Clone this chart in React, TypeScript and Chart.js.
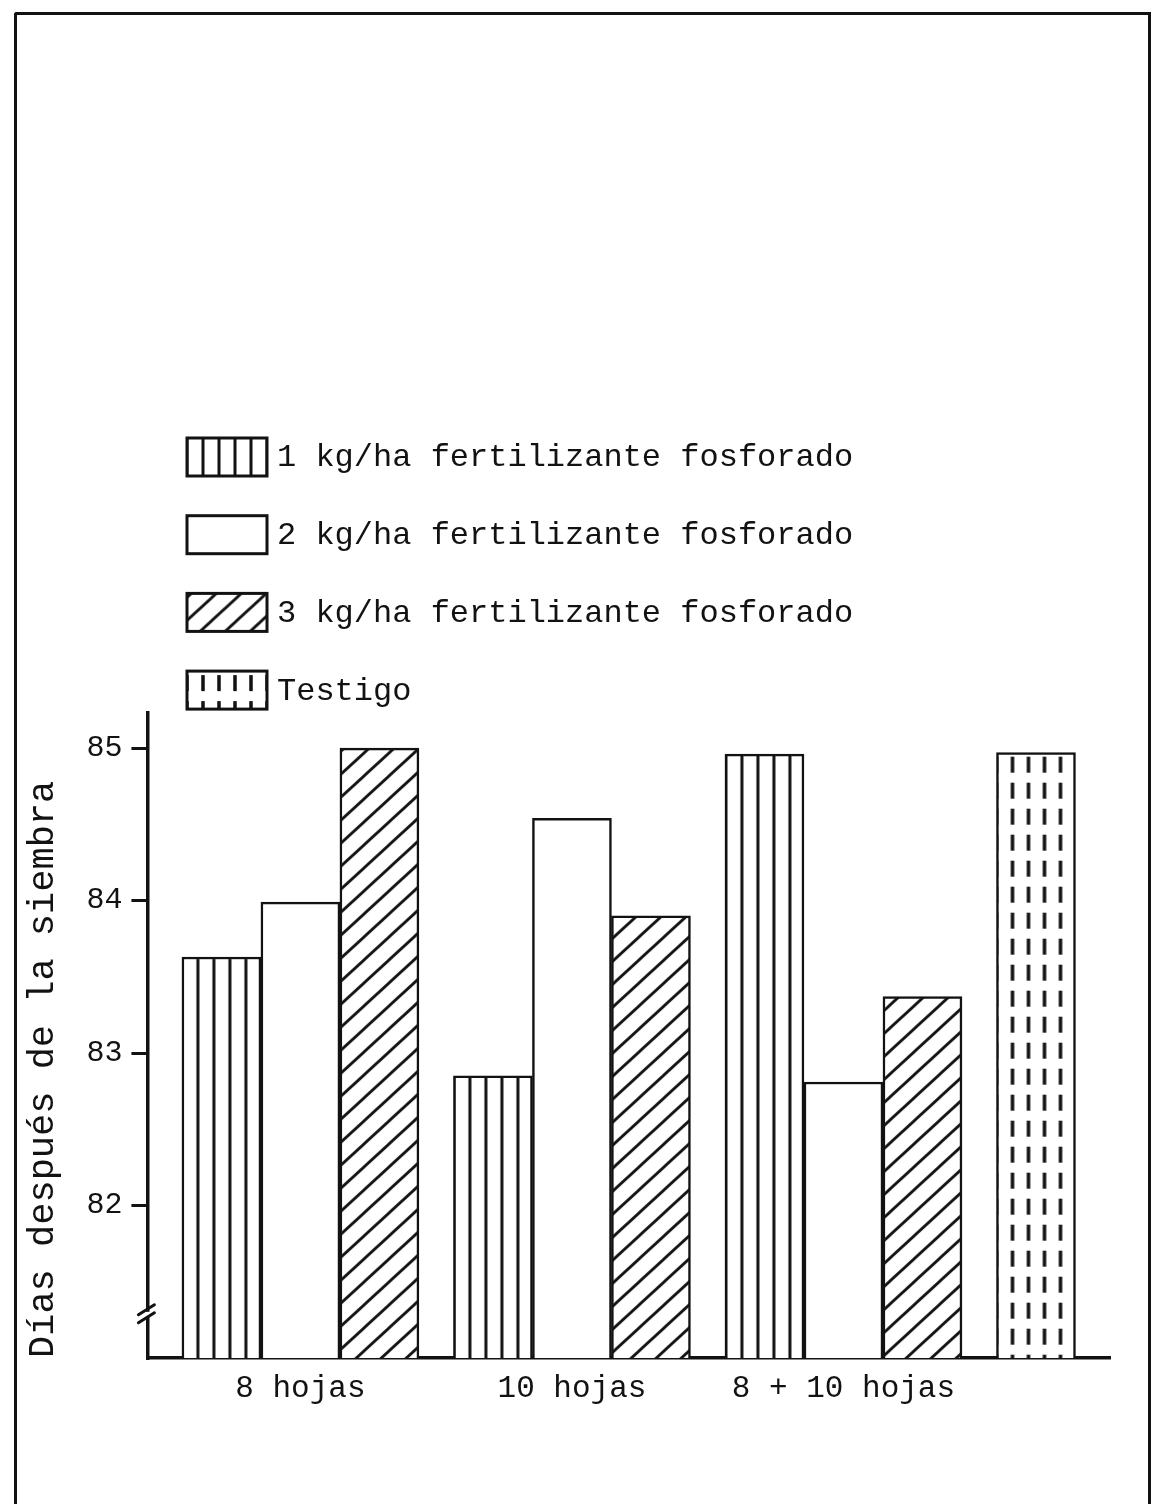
import React, { useEffect, useRef } from 'react';
import { Chart, registerables, CategoryScale } from 'chart.js';

// ---------------- data ----------------
const categories = ['8 hojas', '10 hojas', '8 + 10 hojas', ''];
const seriesLabels = [
  '1 kg/ha fertilizante fosforado',
  '2 kg/ha fertilizante fosforado',
  '3 kg/ha fertilizante fosforado',
  'Testigo',
];
const dose1 = [83.63, 82.85, 84.96, null];
const dose2 = [83.99, 84.54, 82.81, null];
const dose3 = [85.0, 83.9, 83.37, null];
const testigo = [null, null, null, 84.97];
const yTicks = [82, 83, 84, 85];
const yMin = 81;
const yMax = 85.23;
const breakAt = 81.27;
const yTitle = 'Días después de la siembra';

// ---------------- style ----------------
const INK = '#121212';
const FONT = '"Liberation Mono", "DejaVu Sans Mono", monospace';
const BAR_W = 79;
const LEGEND = { x: 187, top: 438, step: 77.7, w: 80, h: 38, textGap: 10, size: 32 };

// Category scale whose categories get a width proportional to the number of bars they hold
class GroupedCategoryScale extends (CategoryScale as any) {
  static id = 'groupedCategory';
  groupCenters(): number[] {
    const labels: any[] = this.getLabels();
    const datasets: any[] = this.chart.data.datasets;
    const counts = labels.map((_: any, i: number) =>
      Math.max(1, datasets.filter((d) => d.data[i] !== null && d.data[i] !== undefined).length)
    );
    const total = counts.reduce((a: number, b: number) => a + b, 0);
    const gap = (this.width - total * BAR_W) / (counts.length + 1);
    const centers: number[] = [];
    let x = this.left + gap;
    counts.forEach((c: number) => {
      centers.push(x + (c * BAR_W) / 2);
      x += c * BAR_W + gap;
    });
    return centers;
  }
  getPixelForValue(value: any) {
    if (typeof value !== 'number') value = this.parse(value);
    if (value === null || value === undefined || isNaN(value)) return NaN;
    const centers = this.groupCenters();
    const i = Math.max(0, Math.min(centers.length - 1, Math.round(value)));
    return centers[i];
  }
}

Chart.register(...registerables, GroupedCategoryScale as any);

function makePattern(w: number, h: number, draw: (g: CanvasRenderingContext2D, w: number, h: number) => void) {
  const c = document.createElement('canvas');
  c.width = w;
  c.height = h;
  const g = c.getContext('2d')!;
  g.fillStyle = '#ffffff';
  g.fillRect(0, 0, w, h);
  g.fillStyle = INK;
  g.strokeStyle = INK;
  draw(g, w, h);
  return g.createPattern(c, 'repeat')!;
}

const alignPatterns = {
  id: 'alignPatterns',
  beforeDatasetsDraw(chart: any) {
    chart.data.datasets.forEach((ds: any, i: number) => {
      const bg = ds.backgroundColor;
      if (!(bg instanceof CanvasPattern)) return;
      const idx = ds.data.findIndex((v: any) => v !== null && v !== undefined);
      const el = chart.getDatasetMeta(i).data[idx];
      if (!el) return;
      const { x, y, width } = el.getProps(['x', 'y', 'width'], true);
      bg.setTransform(new DOMMatrix().translate(x - width / 2, y + 4));
    });
  },
};

const boxLegend = {
  id: 'boxLegend',
  afterDraw(chart: any) {
    const ctx = chart.ctx as CanvasRenderingContext2D;
    ctx.save();
    chart.data.datasets.forEach((ds: any, i: number) => {
      const x = LEGEND.x;
      const y = LEGEND.top + i * LEGEND.step;
      const bg = ds.backgroundColor;
      if (bg instanceof CanvasPattern) bg.setTransform(new DOMMatrix().translate(x, y + 4));
      ctx.fillStyle = bg;
      ctx.fillRect(x, y, LEGEND.w, LEGEND.h);
      ctx.lineWidth = 3;
      ctx.strokeStyle = INK;
      ctx.strokeRect(x, y, LEGEND.w, LEGEND.h);
      ctx.fillStyle = INK;
      ctx.font = `${LEGEND.size}px ${FONT}`;
      ctx.textBaseline = 'middle';
      ctx.textAlign = 'left';
      ctx.fillText(ds.label, x + LEGEND.w + LEGEND.textGap, y + LEGEND.h / 2 + 1);
    });
    ctx.restore();
  },
};

const axisBreak = {
  id: 'axisBreak',
  afterDraw(chart: any) {
    const ctx = chart.ctx as CanvasRenderingContext2D;
    const x = chart.chartArea.left;
    const y = chart.scales.y.getPixelForValue(breakAt);
    ctx.save();
    ctx.fillStyle = '#ffffff';
    ctx.fillRect(x - 3, y - 5, 6, 5);
    ctx.strokeStyle = INK;
    ctx.lineWidth = 3;
    ctx.lineCap = 'round';
    ctx.beginPath();
    ctx.moveTo(x - 9, y - 2);
    ctx.lineTo(x + 7, y - 12);
    ctx.moveTo(x - 9, y + 6);
    ctx.lineTo(x + 7, y - 4);
    ctx.stroke();
    ctx.restore();
  },
};

export default function App() {
  const ref = useRef<HTMLCanvasElement | null>(null);

  useEffect(() => {
    if (!ref.current) return;
    const vertical = makePattern(16, 16, (g, w, h) => {
      g.fillRect(0, 0, 1.5, h);
      g.fillRect(w - 1.5, 0, 1.5, h);
    });
    const hatch = makePattern(25, 23, (g, w, h) => {
      g.lineWidth = 2.8;
      g.beginPath();
      for (let k = -1; k <= 1; k++) {
        g.moveTo(-w, (k + 2) * h);
        g.lineTo(2 * w, (k - 1) * h);
      }
      g.stroke();
    });
    const dashed = makePattern(16, 26, (g, w) => {
      g.fillRect(0, 0, 1.75, 16);
      g.fillRect(w - 1.75, 0, 1.75, 16);
    });

    const fills = [vertical, '#ffffff', hatch, dashed];
    const values = [dose1, dose2, dose3, testigo];

    const chart = new Chart(ref.current, {
      type: 'bar',
      data: {
        labels: categories,
        datasets: values.map((v, i) => ({
          label: seriesLabels[i],
          data: v,
          backgroundColor: fills[i] as any,
          borderColor: INK,
          borderWidth: 2.5,
          borderSkipped: false,
          barThickness: BAR_W,
          skipNull: true,
        })),
      },
      options: {
        responsive: false,
        animation: false,
        events: [],
        devicePixelRatio: 1,
        layout: { padding: { left: 7, right: 44, top: 713, bottom: 84.8 } },
        plugins: {
          legend: { display: false },
          tooltip: { enabled: false },
        },
        scales: {
          x: {
            type: 'groupedCategory' as any,
            grid: { display: false, drawTicks: false },
            border: { display: true, color: INK, width: 3.5 },
            ticks: {
              color: INK,
              font: { family: FONT, size: 31 },
              padding: 12,
              autoSkip: false,
              maxRotation: 0,
              minRotation: 0,
            },
          },
          y: {
            min: yMin,
            max: yMax,
            grid: {
              display: true,
              drawOnChartArea: false,
              drawTicks: true,
              tickLength: 16,
              lineWidth: 3,
              color: (c: any) => (c.tick && yTicks.includes(c.tick.value) ? INK : 'rgba(0,0,0,0)'),
            },
            border: { display: true, color: INK, width: 3.5 },
            ticks: {
              stepSize: 1,
              includeBounds: false,
              color: INK,
              font: { family: FONT, size: 30 },
              padding: 9,
              callback: (v: any) => (yTicks.includes(Number(v)) ? String(v) : ''),
            },
            title: {
              display: true,
              text: yTitle,
              color: INK,
              align: 'start',
              font: { family: FONT, size: 37 },
              padding: { top: 14, bottom: 12 },
            },
          },
        },
      },
      plugins: [alignPatterns, boxLegend, axisBreak],
    });
    return () => chart.destroy();
  }, []);

  return (
    <div
      style={{
        position: 'absolute',
        left: 0,
        top: 0,
        width: 1154,
        height: 1504,
        overflow: 'hidden',
        background: '#ffffff',
      }}
    >
      <div
        style={{
          position: 'absolute',
          left: 14,
          top: 12,
          width: 1137,
          height: 1700,
          boxSizing: 'border-box',
          borderTop: `3px solid ${INK}`,
          borderLeft: `3px solid ${INK}`,
          borderRight: `3px solid ${INK}`,
          borderRadius: '3px 0 0 0',
        }}
      />
      <canvas
        ref={ref}
        width={1154}
        height={1504}
        style={{ position: 'absolute', left: 0, top: 0, width: 1154, height: 1504 }}
      />
    </div>
  );
}
